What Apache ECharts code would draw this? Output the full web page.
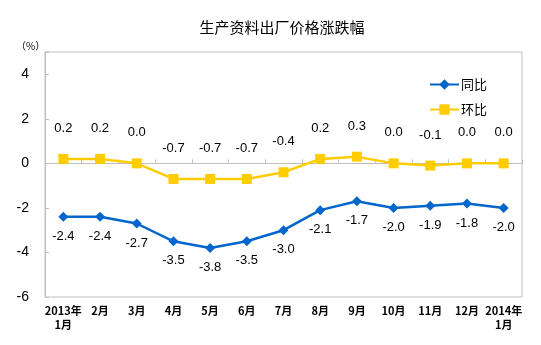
<!DOCTYPE html>
<html>
<head>
<meta charset="utf-8">
<script src="https://cdn.jsdelivr.net/npm/echarts@6/dist/echarts.min.js"></script>
<style>
  html, body { margin: 0; padding: 0; background: #fff; }
  #chart { width: 541px; height: 345px; }
</style>
</head>
<body>
<div id="chart"></div>
<script>
// Month labels (two-line where the year changes)
const months = ['2013年\n1月', '2月', '3月', '4月', '5月', '6月', '7月', '8月', '9月', '10月', '11月', '12月', '2014年\n1月'];
// Year-on-year change (%)
const yoy = [-2.4, -2.4, -2.7, -3.5, -3.8, -3.5, -3.0, -2.1, -1.7, -2.0, -1.9, -1.8, -2.0];
// Month-on-month change (%)
const mom = [0.2, 0.2, 0.0, -0.7, -0.7, -0.7, -0.4, 0.2, 0.3, 0.0, -0.1, 0.0, 0.0];
const yTicks = [-6, -4, -2, 0, 2, 4];

const labelFont = 'Arial, "Liberation Sans", "Noto Sans CJK SC", sans-serif';
const cjkFont = '"Noto Sans CJK SC", sans-serif';

const chart = echarts.init(document.getElementById('chart'), null, { renderer: 'canvas' });
chart.setOption({
  animation: false,
  backgroundColor: '#ffffff',
  title: {
    text: '生产资料出厂价格涨跌幅',
    left: 277,
    top: 15,
    textAlign: 'center',
    textStyle: { fontFamily: cjkFont, fontSize: 15, fontWeight: 'normal', color: '#000' }
  },
  graphic: [{
    type: 'text',
    left: 16,
    top: 41,
    style: { text: '（%）', font: '10px ' + cjkFont, fill: '#000' }
  }],
  legend: {
    orient: 'vertical',
    left: 424,
    top: 73,
    itemWidth: 29,
    itemHeight: 13,
    itemGap: 12,
    textStyle: { fontFamily: cjkFont, fontSize: 13, color: '#000', padding: [0, 0, 0, -3] },
    data: ['同比', '环比']
  },
  grid: {
    left: 45,
    right: 19,
    top: 52,
    bottom: 48,
    show: true,
    borderColor: '#BFBFBF',
    borderWidth: 1
  },
  xAxis: {
    type: 'category',
    data: months,
    boundaryGap: true,
    axisLine: { lineStyle: { color: '#BFBFBF', width: 1 } },
    axisTick: { show: true, inside: true, length: 4, alignWithLabel: false, lineStyle: { color: '#BFBFBF' } },
    axisLabel: {
      interval: 0,
      margin: 7,
      fontFamily: cjkFont,
      fontSize: 11,
      fontWeight: 'bold',
      lineHeight: 14,
      color: '#000'
    },
    splitLine: { show: false }
  },
  yAxis: {
    type: 'value',
    min: -6,
    max: 5,
    interval: 2,
    axisLine: { show: true, lineStyle: { color: '#BFBFBF', width: 1 } },
    axisTick: { show: true, inside: true, length: 4, lineStyle: { color: '#BFBFBF' } },
    axisLabel: {
      margin: 16,
      fontFamily: labelFont,
      fontSize: 14,
      color: '#000',
      formatter: v => (yTicks.indexOf(v) >= 0 ? String(v) : '')
    },
    splitLine: { show: false }
  },
  series: [
    {
      name: '同比',
      type: 'line',
      data: yoy,
      symbol: 'diamond',
      symbolSize: 10,
      lineStyle: { color: '#0066CC', width: 2.5 },
      itemStyle: { color: '#0066CC' },
      label: {
        show: true,
        position: 'bottom',
        distance: 8,
        fontFamily: labelFont,
        fontSize: 13,
        color: '#000',
        formatter: p => p.value.toFixed(1)
      }
    },
    {
      name: '环比',
      type: 'line',
      data: mom,
      symbol: 'rect',
      symbolSize: 10,
      lineStyle: { color: '#FFCC00', width: 2.5 },
      itemStyle: { color: '#FFCC00' },
      label: {
        show: true,
        position: 'top',
        distance: 19,
        fontFamily: labelFont,
        fontSize: 13,
        color: '#000',
        formatter: p => p.value.toFixed(1)
      }
    }
  ]
});
</script>
</body>
</html>
